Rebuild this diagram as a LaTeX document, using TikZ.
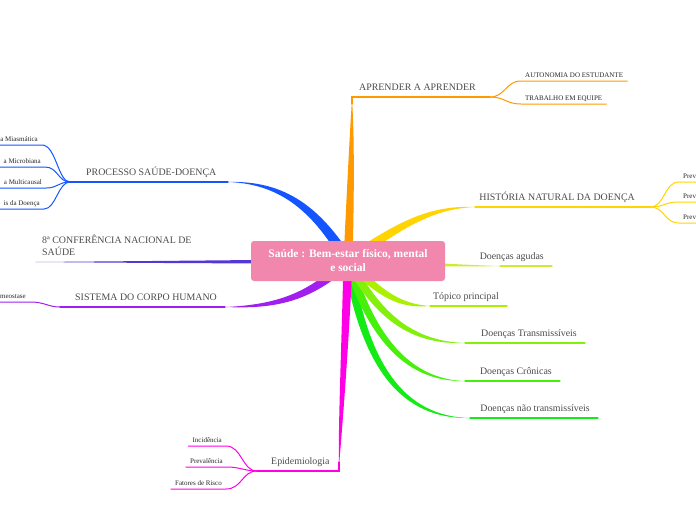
\documentclass[tikz,border=0pt]{standalone}
\usepackage{fontspec}
\setmainfont{Liberation Serif}
\usetikzlibrary{calc, backgrounds}

\definecolor{rootpink}{RGB}{241,135,173}
\definecolor{brOrange}{RGB}{255,153,0}
\definecolor{brBlue}{RGB}{20,85,255}
\definecolor{brIndigo}{RGB}{85,55,215}
\definecolor{brPurple}{RGB}{160,30,240}
\definecolor{brMagenta}{RGB}{255,0,230}
\definecolor{brYellow}{RGB}{255,212,0}
\definecolor{brLime}{RGB}{205,235,50}
\definecolor{brGreenA}{RGB}{170,240,0}
\definecolor{brGreenB}{RGB}{130,240,10}
\definecolor{brGreenC}{RGB}{70,240,10}
\definecolor{brGreenD}{RGB}{20,235,20}
\definecolor{labelgray}{RGB}{75,75,75}

\tikzset{
    rootbox/.style={fill=rootpink, rounded corners=3pt, minimum width=194pt, minimum height=40pt,
        text=white, font=\bfseries\fontsize{11.5}{14}\selectfont, align=center, inner sep=2pt},
    topic/.style={font=\fontsize{9.9}{12}\selectfont, text=labelgray, inner xsep=8pt, inner ysep=4.5pt, text depth=2pt},
    subtopic/.style={font=\fontsize{7}{8}\selectfont, text=black!85, inner xsep=4pt, inner ysep=2pt, text depth=1.5pt},
    twigline/.style={line width=1.3pt, line cap=round},
    leafline/.style={line width=1pt, line cap=round},
}

% tapered branch: colour, start, control 1, control 2, end, half width
\newcommand{\limb}[6]{%
    \fill[#1] ($(#2)!#6pt!90:(#3)$) .. controls ($(#3)!0.8*#6pt!90:(#4)$) and ($(#4)!0.45*#6pt!-90:(#3)$) .. (#5)
        .. controls ($(#4)!0.45*#6pt!90:(#3)$) and ($(#3)!0.8*#6pt!-90:(#4)$) .. ($(#2)!#6pt!-90:(#3)$) -- cycle;}

\begin{document}
\begin{tikzpicture}[x=1pt, y=-1pt]
    \useasboundingbox (0,0) rectangle (696,520);

    % Central topic
    \node[rootbox] (root) at (348,261) {Saúde : Bem-estar físico, mental\\e social};

    % Junctions
    \coordinate (jAprender) at (490,97);
    \coordinate (jHistoria) at (650,207);
    \coordinate (jProcesso) at (70,182);
    \coordinate (jSistema) at (60,307);
    \coordinate (jEpidem) at (257,471);

    % Main topics
    \node[topic, anchor=south east, inner xsep=14pt] (aprender) at (jAprender) {APRENDER A APRENDER};
    \node[topic, anchor=south east, inner xsep=15pt] (historia) at (jHistoria) {HISTÓRIA NATURAL DA DOENÇA};
    \node[topic, anchor=south east] (agudas) at (552,266) {Doenças agudas};
    \node[topic, anchor=south east] (topico) at (507,306) {Tópico principal};
    \node[topic, anchor=south east] (transm) at (585,343) {Doenças Transmissíveis};
    \node[topic, anchor=south east] (cronicas) at (560,381) {Doenças Crônicas};
    \node[topic, anchor=south east] (naotransm) at (598,418) {Doenças não transmissíveis};
    \node[topic, anchor=south west, inner xsep=14pt] (epidem) at (jEpidem) {Epidemiologia};
    \node[topic, anchor=south west, inner xsep=15pt] (sistema) at (jSistema) {SISTEMA DO CORPO HUMANO};
    \node[topic, anchor=south west, inner xsep=16pt] (processo) at (jProcesso) {PROCESSO SAÚDE-DOENÇA};
    \node[topic, anchor=south west, inner xsep=7pt, align=left] (conf) at (35,262) {8ª CONFERÊNCIA NACIONAL DE\\SAÚDE};

    % Sub topics
    \node[subtopic, anchor=south west] (autonomia) at (521,81) {AUTONOMIA DO ESTUDANTE};
    \node[subtopic, anchor=south west] (trabalho) at (521,104) {TRABALHO EM EQUIPE};
    \node[subtopic, anchor=south west] (prevA) at (679,182) {Prev};
    \node[subtopic, anchor=south west] (prevB) at (679,202) {Prev};
    \node[subtopic, anchor=south west] (prevC) at (679,223) {Prev};
    \node[subtopic, anchor=south east] (miasma) at (42,145) {a Miasmática};
    \node[subtopic, anchor=south east] (microb) at (45,167) {a Microbiana};
    \node[subtopic, anchor=south east] (multic) at (46,188) {a Multicausal};
    \node[subtopic, anchor=south east] (fases) at (44,209) {is da Doença};
    \node[subtopic, anchor=south east] (homeo) at (30,302) {meostase};
    \node[subtopic, anchor=south east] (incid) at (226,446) {Incidência};
    \node[subtopic, anchor=south east] (preval) at (227,467) {Prevalência};
    \node[subtopic, anchor=south east] (fatores) at (226,489) {Fatores de Risco};

    \begin{scope}[on background layer]
        % Aprender a aprender
        \limb{brOrange}{root}{351,180}{352,130}{352,99}{4.5}
        \draw[twigline, brOrange] (352,104) |- (jAprender);
        \draw[leafline, brOrange] (jAprender) .. controls (505,97) and (506,81) .. (autonomia.south west) -- (autonomia.south east);
        \draw[leafline, brOrange] (jAprender) .. controls (505,97) and (506,104) .. (trabalho.south west) -- (trabalho.south east);

        % Historia natural
        \limb{brYellow}{root}{400,225}{430,207}{475,207}{5}
        \draw[twigline, brYellow] (475,207) -- (jHistoria);
        \draw[leafline, brYellow] (jHistoria) .. controls (665,207) and (664,182) .. (prevA.south west) -- (prevA.south east);
        \draw[leafline, brYellow] (jHistoria) .. controls (665,207) and (664,202) .. (prevB.south west) -- (prevB.south east);
        \draw[leafline, brYellow] (jHistoria) .. controls (665,207) and (664,223) .. (prevC.south west) -- (prevC.south east);

        % Right side
        \limb{brGreenD}{root}{365,370}{405,418}{470,418}{4.5}
        \draw[twigline, brGreenD] (470,418) -- (naotransm.south east);
        \limb{brGreenC}{root}{372,340}{410,381}{465,381}{4.5}
        \draw[twigline, brGreenC] (465,381) -- (cronicas.south east);
        \limb{brGreenB}{root}{380,320}{415,343}{465,343}{4.5}
        \draw[twigline, brGreenB] (465,343) -- (transm.south east);
        \limb{brGreenA}{root}{385,300}{405,306}{430,306}{4.5}
        \draw[twigline, brGreenA] (430,306) -- (topico.south east);
        \limb{brLime}{root}{420,264}{460,266}{500,266}{2.5}
        \draw[twigline, brLime] (500,266) -- (agudas.south east);

        % Epidemiologia
        \limb{brMagenta}{root}{345,350}{340,430}{339,466}{4.5}
        \draw[twigline, brMagenta] (339,462) |- (jEpidem);
        \draw[leafline, brMagenta] (jEpidem) .. controls (242,471) and (242,446) .. (incid.south east) -- (incid.south west);
        \draw[leafline, brMagenta] (jEpidem) .. controls (245,471) and (240,467) .. (preval.south east) -- (preval.south west);
        \draw[leafline, brMagenta] (jEpidem) .. controls (242,471) and (242,489) .. (fatores.south east) -- (fatores.south west);

        % Sistema do corpo humano
        \limb{brPurple}{root}{310,298}{275,307}{225,307}{5}
        \draw[twigline, brPurple] (225,307) -- (jSistema);
        \draw[leafline, brPurple] (jSistema) .. controls (48,307) and (45,302) .. (homeo.south east) -- (homeo.south west);

        % Conferencia
        \limb{brIndigo}{root}{250,262}{150,262}{35,262}{2.2}

        % Processo saude-doenca
        \limb{brBlue}{root}{318,212}{285,182}{228,182}{5.5}
        \draw[twigline, brBlue] (228,182) -- (jProcesso);
        \draw[leafline, brBlue] (jProcesso) .. controls (58,182) and (56,145) .. (miasma.south east) -- (miasma.south west);
        \draw[leafline, brBlue] (jProcesso) .. controls (58,182) and (58,167) .. (microb.south east) -- (microb.south west);
        \draw[leafline, brBlue] (jProcesso) .. controls (58,182) and (58,188) .. (multic.south east) -- (multic.south west);
        \draw[leafline, brBlue] (jProcesso) .. controls (58,182) and (56,209) .. (fases.south east) -- (fases.south west);
    \end{scope}
\end{tikzpicture}
\end{document}
